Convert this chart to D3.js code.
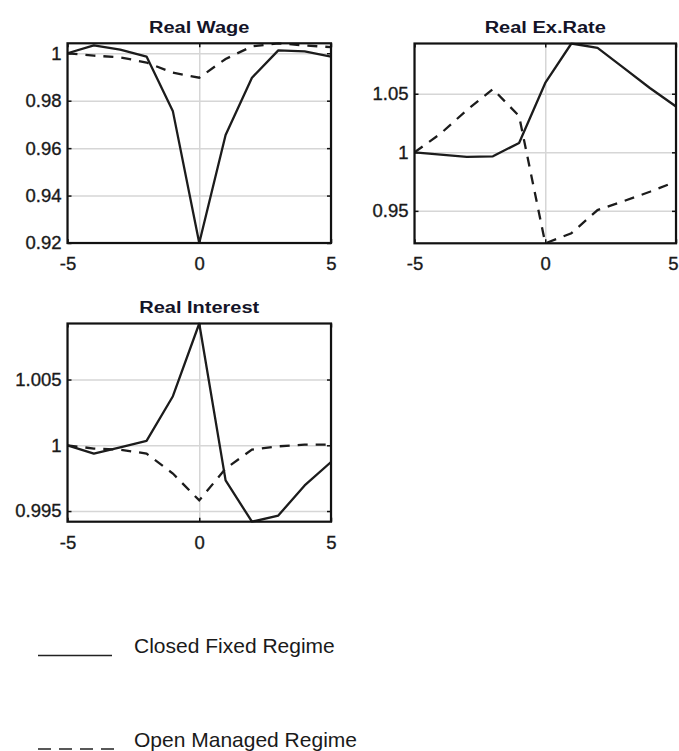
<!DOCTYPE html>
<html>
<head>
<meta charset="utf-8">
<script src="https://cdn.jsdelivr.net/npm/d3@7"></script>
<style>
  html, body { margin: 0; padding: 0; background: #fff; }
  svg { display: block; font-family: "Liberation Sans", Arial, sans-serif; }
</style>
</head>
<body>
<svg id="chart" width="679" height="751"></svg>
<script>
// Quarters around the shock
const steps = [-5, -4, -3, -2, -1, 0, 1, 2, 3, 4, 5];
const xTicks = [-5, 0, 5];

// Real wage responses
const wageClosed = [1.0000, 1.0033, 1.0015, 0.9986, 0.9755, 0.9200, 0.9655, 0.9897, 1.0012, 1.0008, 0.9986];
const wageOpen   = [1.0000, 0.9990, 0.9983, 0.9961, 0.9918, 0.9897, 0.9976, 1.0029, 1.0042, 1.0033, 1.0026];
const wageTicks  = [0.92, 0.94, 0.96, 0.98, 1];

// Real exchange rate responses
const exClosed = [1.0000, 0.9980, 0.9961, 0.9966, 1.0080, 1.0592, 1.0929, 1.0892, 1.0721, 1.0549, 1.0391];
const exOpen   = [1.0000, 1.0160, 1.0360, 1.0540, 1.0309, 0.9223, 0.9309, 0.9507, 0.9583, 0.9663, 0.9750];
const exTicks  = [0.95, 1, 1.05];

// Real interest rate responses
const intClosed = [1.00000, 0.99937, 0.99985, 1.00033, 1.00373, 1.00926, 0.99733, 0.99419, 0.99466, 0.99695, 0.99873];
const intOpen   = [1.00000, 0.99975, 0.99967, 0.99937, 0.99785, 0.99581, 0.99823, 0.99967, 0.99992, 1.00005, 1.00005];
const intTicks  = [0.995, 1, 1.005];

// Legend entries
const regimes = ["Closed Fixed Regime", "Open Managed Regime"];

const svg = d3.select("#chart");
const svgWidth = +svg.attr("width");

const panels = [
  { title: "Real Wage",     closed: wageClosed, open: wageOpen, ticks: wageTicks,
    box: { x0: 67.5, x1: 331, y0: 43.3, y1: 243 } },
  { title: "Real Ex.Rate",  closed: exClosed,   open: exOpen,   ticks: exTicks,
    box: { x0: 414.5, x1: 676, y0: 43.5, y1: 243.3 } },
  { title: "Real Interest", closed: intClosed,  open: intOpen,  ticks: intTicks,
    box: { x0: 67.5, x1: 331, y0: 323.5, y1: 521.7 } }
];

panels.forEach((p, i) => {
  const w = p.box.x1 - p.box.x0;
  const h = p.box.y1 - p.box.y0;
  const g = svg.append("g").attr("transform", `translate(${p.box.x0},${p.box.y0})`);

  const x = d3.scaleLinear().domain([-5, 5]).range([0, w]);
  const y = d3.scaleLinear().domain(d3.extent(p.closed.concat(p.open))).range([h, 0]);

  // grid lines
  const gy = g.append("g")
    .call(d3.axisLeft(y).tickValues(p.ticks).tickSize(-w).tickFormat(""));
  const gx = g.append("g").attr("transform", `translate(0,${h})`)
    .call(d3.axisBottom(x).tickValues(xTicks).tickSize(-h).tickFormat(""));
  [gy, gx].forEach(a => {
    a.select(".domain").remove();
    a.selectAll("line").attr("stroke", "#d6d6d6").attr("stroke-width", 1.5);
  });

  // tick labels
  const ly = g.append("g")
    .call(d3.axisLeft(y).tickValues(p.ticks).tickSize(0).tickPadding(6).tickFormat(d => String(d)));
  const lx = g.append("g").attr("transform", `translate(0,${h})`)
    .call(d3.axisBottom(x).tickValues(xTicks).tickSize(0).tickPadding(14).tickFormat(d => String(d)));
  [ly, lx].forEach(a => {
    a.select(".domain").remove();
    a.selectAll("text")
      .attr("font-family", "'Liberation Sans', Arial, sans-serif")
      .attr("font-size", 18.5)
      .attr("fill", "#1a1a1a")
      .attr("stroke", "#1a1a1a").attr("stroke-width", 0.35);
  });
  // keep the last x label inside the page
  lx.selectAll("text").each(function () {
    const b = this.getBoundingClientRect();
    if (b.right > svgWidth) d3.select(this).attr("dx", -(b.right - svgWidth + 0.5));
  });

  // inner tick marks on all four sides
  const tk = 4;
  [
    [d3.axisLeft(y).tickValues(p.ticks), 0, 0],
    [d3.axisRight(y).tickValues(p.ticks), w, 0],
    [d3.axisBottom(x).tickValues(xTicks), 0, h],
    [d3.axisTop(x).tickValues(xTicks), 0, 0]
  ].forEach(([ax, tx, ty]) => {
    const a = g.append("g").attr("transform", `translate(${tx},${ty})`)
      .call(ax.tickSize(-tk).tickFormat(""));
    a.select(".domain").remove();
    a.selectAll("line").attr("stroke", "#111").attr("stroke-width", 1.5);
  });

  // response lines
  const clipId = "clip" + i;
  g.append("clipPath").attr("id", clipId)
    .append("rect").attr("x", 0).attr("y", -1).attr("width", w).attr("height", h + 2);

  const line = d3.line().x((d, j) => x(steps[j])).y(d => y(d));
  const lines = g.append("g").attr("clip-path", `url(#${clipId})`);
  lines.append("path").datum(p.open)
    .attr("d", line).attr("fill", "none")
    .attr("stroke", "#1c1c1c").attr("stroke-width", 2.3)
    .attr("stroke-dasharray", "10,8");
  lines.append("path").datum(p.closed)
    .attr("d", line).attr("fill", "none")
    .attr("stroke", "#1c1c1c").attr("stroke-width", 2.3)
    .attr("stroke-linejoin", "round");

  // frame
  g.append("rect").attr("width", w).attr("height", h)
    .attr("fill", "none").attr("stroke", "#111").attr("stroke-width", 2.2);

  // title
  g.append("text")
    .attr("transform", `translate(${w / 2},-10.5) scale(1.25,1)`)
    .attr("text-anchor", "middle")
    .attr("font-size", 16).attr("font-weight", "bold")
    .attr("fill", "#141428")
    .text(p.title);
});

// legend
const legend = svg.append("g").attr("font-family", "'Liberation Sans', Arial, sans-serif");
const legendRows = [
  { label: regimes[0], y: 653, dash: null },
  { label: regimes[1], y: 746.5, dash: "13,8" }
];
legendRows.forEach(r => {
  legend.append("line")
    .attr("x1", 38).attr("x2", r.dash ? 119 : 112)
    .attr("y1", r.y + 2.5).attr("y2", r.y + 2.5)
    .attr("stroke", "#222").attr("stroke-width", 1.6)
    .attr("stroke-dasharray", r.dash);
  legend.append("text")
    .attr("x", 134).attr("y", r.y)
    .attr("font-size", 21).attr("fill", "#1a1a1a")
    .text(r.label);
});
</script>
</body>
</html>
